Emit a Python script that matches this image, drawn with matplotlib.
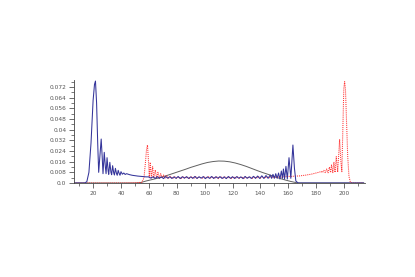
import matplotlib
matplotlib.use("Agg")
import matplotlib.pyplot as plt
from matplotlib.ticker import MultipleLocator, FixedLocator, FixedFormatter

# ---------------- data ----------------
blue_pts = [
    (6.5, 0), (14, 0), (15.5, 0.001), (17, 0.008), (18.5, 0.03), (20, 0.062), (21, 0.074),
    (21.7, 0.0765), (22.5, 0.06), (23.3, 0.03), (24, 0.008), (25, 0.022), (25.8, 0.033),
    (26.5, 0.02), (27.1, 0.007), (28, 0.023), (28.8, 0.012), (29.3, 0.007), (30, 0.019),
    (30.8, 0.009), (31.2, 0.0065), (32, 0.0155), (32.8, 0.008), (33.3, 0.0062), (34, 0.013),
    (34.8, 0.0075), (35.3, 0.006), (36, 0.011), (36.8, 0.007), (37.3, 0.0058), (38, 0.0095),
    (38.8, 0.0068), (39.3, 0.0058), (40, 0.0085), (41, 0.0066), (42, 0.0075), (43, 0.0064),
    (44, 0.007), (46, 0.0063), (48, 0.0058), (50, 0.0055), (52, 0.0052), (54, 0.005),
    (56, 0.0048), (58, 0.0046),
    (60, 0.0046), (61.5, 0.0036), (63, 0.0047), (64.5, 0.0034), (66, 0.0048), (67.5, 0.0035),
    (69, 0.0046), (70.5, 0.0033), (72, 0.0049), (73.5, 0.0036), (75, 0.0047), (76.5, 0.0034),
    (78, 0.0046), (79.5, 0.0035), (81, 0.0049), (82.5, 0.0033), (84, 0.0047), (85.5, 0.0036),
    (87, 0.0048), (88.5, 0.0034), (90, 0.0046), (91.5, 0.0035), (93, 0.0049), (94.5, 0.0034),
    (96, 0.0047), (97.5, 0.0036), (99, 0.0048), (100.5, 0.0033), (102, 0.0046), (103.5, 0.0035),
    (105, 0.0049), (106.5, 0.0034), (108, 0.0047), (109.5, 0.0036), (111, 0.0048), (112.5, 0.0034),
    (114, 0.0046), (115.5, 0.0033), (117, 0.0049), (118.5, 0.0035), (120, 0.0047), (121.5, 0.0034),
    (123, 0.0048), (124.5, 0.0036), (126, 0.0046), (127.5, 0.0033), (129, 0.0049), (130.5, 0.0035),
    (132, 0.0047), (133.5, 0.0034), (135, 0.0050), (136.5, 0.0035), (138, 0.0052), (139.5, 0.0034),
    (141, 0.0054), (142.5, 0.0034), (144, 0.0056), (145.5, 0.0035),
    (147, 0.006), (148, 0.0035), (149, 0.0065), (150, 0.0035), (151, 0.007), (152, 0.0035),
    (153, 0.0075), (154, 0.003), (155, 0.009), (155.8, 0.0035), (156.5, 0.0105), (157.3, 0.003),
    (158.3, 0.0125), (159.3, 0.003), (160.5, 0.019), (161.8, 0.0035), (163.3, 0.0285),
    (164.4, 0.011), (165.4, 0.0015), (167, 0), (214, 0),
]

red_pts = [
    (6.5, 0), (40, 0), (50, 0.0002), (55, 0.0005), (56.5, 0.004), (57.5, 0.015), (58.3, 0.025),
    (59, 0.0285), (59.8, 0.015), (60.3, 0.004), (61, 0.0155), (61.8, 0.004), (62.7, 0.0122),
    (63.5, 0.0038), (64.6, 0.0098), (65.5, 0.0038), (66.5, 0.008), (67.5, 0.0037), (68.5, 0.007),
    (69.5, 0.0037), (70.5, 0.006), (71.5, 0.0035), (72.5, 0.0055), (74, 0.0035), (75.5, 0.005),
    (77, 0.0034), (78.5, 0.0047), (80, 0.0035), (81.5, 0.0046), (83, 0.0033), (84.5, 0.0048),
    (86, 0.0035), (87.5, 0.0046), (89, 0.0034), (90.5, 0.0047), (92, 0.0033), (93.5, 0.0048),
    (95, 0.0035), (96.5, 0.0046), (98, 0.0034), (99.5, 0.0047), (101, 0.0033), (102.5, 0.0048),
    (104, 0.0036), (105.5, 0.0046), (107, 0.0034), (108.5, 0.0047), (110, 0.0033), (111.5, 0.0048),
    (113, 0.0035), (114.5, 0.0046), (116, 0.0034), (117.5, 0.0047), (119, 0.0033), (120.5, 0.0048),
    (122, 0.0035), (123.5, 0.0046), (125, 0.0034), (126.5, 0.0047), (128, 0.0033), (129.5, 0.0048),
    (131, 0.0036), (132.5, 0.0046), (134, 0.0034), (135.5, 0.0047), (137, 0.0035), (138.5, 0.0048),
    (140, 0.0036), (141.5, 0.0046), (143, 0.0037), (144.5, 0.0047), (146, 0.0038), (147.5, 0.0047),
    (149, 0.0040), (150.5, 0.0045), (152, 0.0041), (153.5, 0.0047), (155, 0.0043), (156.5, 0.0048),
    (158, 0.0047), (160, 0.005), (162, 0.0049), (164, 0.0051), (166, 0.0052), (168, 0.0053),
    (170, 0.0056), (172, 0.0058), (174, 0.0062), (176, 0.0065), (178, 0.007), (179.5, 0.0074),
    (181, 0.0078), (182.5, 0.0082), (183.5, 0.0088), (184.5, 0.0078), (185.5, 0.0095),
    (186.5, 0.0078), (187.5, 0.0105), (188.5, 0.0077), (189.5, 0.012), (190.3, 0.0078),
    (191, 0.0135), (191.9, 0.0078), (192.7, 0.0155), (193.5, 0.008), (194.4, 0.0197),
    (195.4, 0.0082), (196.8, 0.0328), (197.7, 0.016), (198.4, 0.0085), (199.1, 0.04),
    (199.8, 0.071), (200.4, 0.076), (201, 0.07), (201.8, 0.045), (202.6, 0.02), (203.5, 0.005),
    (204.5, 0.0006), (206, 0), (214, 0),
]

gray_pts = [
    (6.5, 0), (50, 0), (54, 0.0003), (58, 0.0015), (62, 0.0025), (66, 0.0035), (70, 0.0047),
    (74, 0.006), (78, 0.0074), (82, 0.0088), (86, 0.0102), (90, 0.0117), (94, 0.013),
    (98, 0.0143), (102, 0.0154), (106, 0.0161), (110, 0.0165), (114, 0.0164), (118, 0.0159),
    (122, 0.015), (126, 0.0138), (130, 0.0124), (134, 0.0108), (138, 0.0092), (142, 0.0077),
    (146, 0.0063), (150, 0.0048), (154, 0.0034), (158, 0.0022), (162, 0.0011), (166, 0.0002),
    (168, 0), (214, 0),
]

x_ticks = [20, 40, 60, 80, 100, 120, 140, 160, 180, 200]
y_ticks = [0.0, 0.008, 0.016, 0.024, 0.032, 0.04, 0.048, 0.056, 0.064, 0.072]
y_labels = ["0.0", "0.008", "0.016", "0.024", "0.032", "0.04", "0.048", "0.056", "0.064", "0.072"]

# ---------------- plot ----------------
fig = plt.figure(figsize=(4.15, 2.77), dpi=100)
ax = fig.add_axes([74 / 415, (277 - 183) / 277, (365 - 74) / 415, (183 - 80) / 277])

gx, gy = zip(*gray_pts)
rx, ry = zip(*red_pts)
bx, by = zip(*blue_pts)
ax.plot(gx, gy, color="#606060", lw=0.7)
ax.plot(rx, ry, color="#ff3333", lw=0.75, linestyle=(0, (1, 1)))
ax.plot(bx, by, color="#34349a", lw=0.75)

ax.set_xlim(6.3, 215)
ax.set_ylim(0, 0.0773)

for s in ("top", "right"):
    ax.spines[s].set_visible(False)
for s in ("left", "bottom"):
    ax.spines[s].set_linewidth(0.6)
    ax.spines[s].set_color("#444444")

ax.xaxis.set_major_locator(FixedLocator(x_ticks))
ax.xaxis.set_minor_locator(MultipleLocator(10))
ax.yaxis.set_major_locator(FixedLocator(y_ticks))
ax.yaxis.set_major_formatter(FixedFormatter(y_labels))
ax.yaxis.set_minor_locator(MultipleLocator(0.004))

ax.tick_params(which="major", direction="out", length=3.5, width=0.55, labelsize=4.2,
               colors="#444444", labelcolor="#555555", pad=2)
ax.tick_params(which="minor", direction="out", length=2, width=0.5, colors="#444444")

fig.savefig("out.png", dpi=100)
